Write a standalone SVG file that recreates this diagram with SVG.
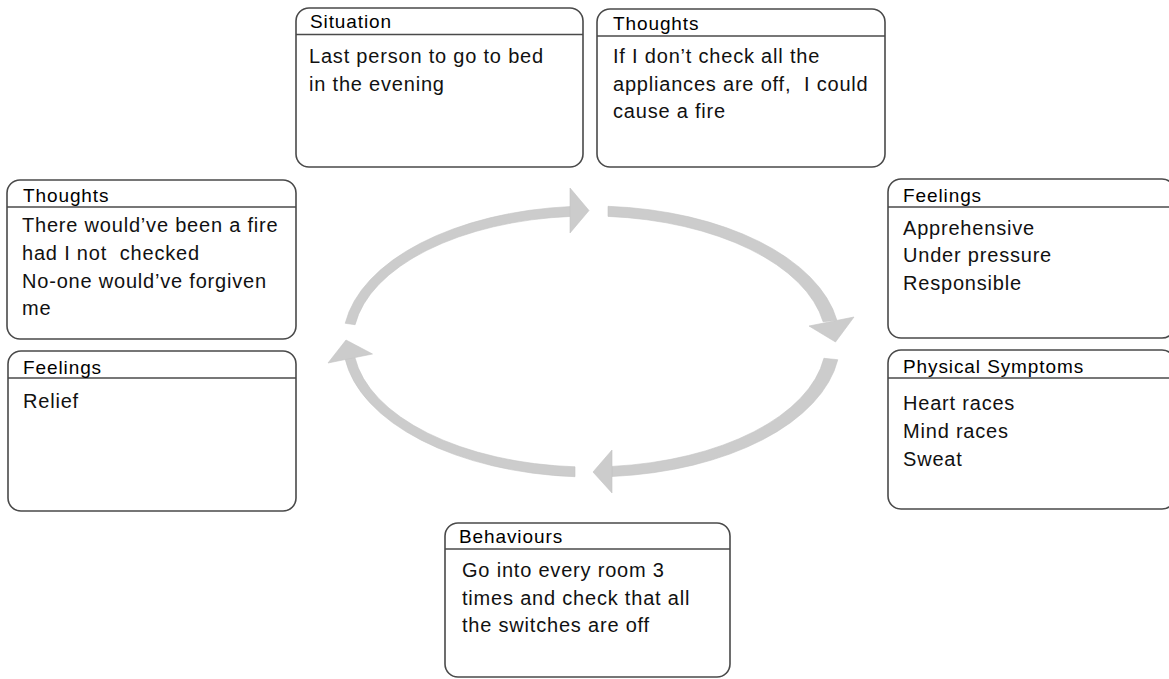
<svg xmlns="http://www.w3.org/2000/svg" width="1169" height="679" viewBox="0 0 1169 679">
<style>
.box{fill:#ffffff;stroke:#4a4a4a;stroke-width:1.6}
.hdr{stroke:#4a4a4a;stroke-width:1.6}
.title{font-family:"Liberation Sans",Arial,sans-serif;font-size:19px;fill:#000;letter-spacing:0.9px;white-space:pre}
.body{font-family:"Liberation Sans",Arial,sans-serif;font-size:20px;fill:#111;letter-spacing:0.8px;white-space:pre}
.arc{fill:#cccccc;stroke:#c4c4c4;stroke-width:0.6}
.head{fill:#cccccc;stroke:#c4c4c4;stroke-width:0.6}
</style>
<rect width="1169" height="679" fill="#ffffff"/>
<g id="connectors">
<path class="arc" d="M 345.2 323.3 A 248.5 135.5 0 0 1 571 206.5 L 571 216.4 A 236.5 125.5 0 0 0 355.1 324.7 Z"/>
<polygon class="head" points="570,188 589,210.5 570,233"/>
<path class="arc" d="M 608 206.3 A 248.5 135.5 0 0 1 836.9 320.2 L 823.1 321.8 A 236.5 125.5 0 0 0 608 216.4 Z"/>
<polygon class="head" points="809,326 835.5,342 854,317"/>
<path class="arc" d="M 837.8 359.7 A 248.5 135.5 0 0 1 612 476.5 L 612 466.4 A 236.5 125.5 0 0 0 823.9 358.3 Z"/>
<polygon class="head" points="612,450 593,472 612,493"/>
<path class="arc" d="M 575 476.7 A 248.5 135.5 0 0 1 345 358.6 L 354.9 357.4 A 236.5 125.5 0 0 0 575 466.8 Z"/>
<polygon class="head" points="328,363 346,340 372.5,354"/>
</g>
<g id="situation">
<rect class="box" x="296" y="8" width="287" height="159" rx="13"/>
<line class="hdr" x1="296" y1="34.5" x2="583" y2="34.5"/>
<text class="title" x="310" y="28">Situation</text>
<text class="body" x="309" y="63">Last person to go to bed</text>
<text class="body" x="309" y="91">in the evening</text>
</g>
<g id="thoughts-top">
<rect class="box" x="597" y="9" width="288" height="158" rx="13"/>
<line class="hdr" x1="597" y1="36" x2="885" y2="36"/>
<text class="title" x="613" y="30">Thoughts</text>
<text class="body" x="613" y="63">If I don’t check all the</text>
<text class="body" x="613" y="91">appliances are off,  I could</text>
<text class="body" x="613" y="118">cause a fire</text>
</g>
<g id="thoughts-left">
<rect class="box" x="7" y="180" width="289" height="159" rx="13"/>
<line class="hdr" x1="7" y1="207" x2="296" y2="207"/>
<text class="title" x="23" y="202">Thoughts</text>
<text class="body" x="22" y="232">There would’ve been a fire</text>
<text class="body" x="22" y="260">had I not  checked</text>
<text class="body" x="22" y="288">No-one would’ve forgiven</text>
<text class="body" x="22" y="315">me</text>
</g>
<g id="feelings-left">
<rect class="box" x="8" y="351" width="288" height="160" rx="13"/>
<line class="hdr" x1="8" y1="378" x2="296" y2="378"/>
<text class="title" x="23" y="374">Feelings</text>
<text class="body" x="23" y="408">Relief</text>
</g>
<g id="feelings-right">
<rect class="box" x="888" y="179" width="287" height="159" rx="13"/>
<line class="hdr" x1="888" y1="207" x2="1175" y2="207"/>
<text class="title" x="903" y="202">Feelings</text>
<text class="body" x="903" y="235">Apprehensive</text>
<text class="body" x="903" y="262">Under pressure</text>
<text class="body" x="903" y="290">Responsible</text>
</g>
<g id="physical-symptoms">
<rect class="box" x="888" y="350" width="287" height="159" rx="13"/>
<line class="hdr" x1="888" y1="378" x2="1175" y2="378"/>
<text class="title" x="903" y="373">Physical Symptoms</text>
<text class="body" x="903" y="410">Heart races</text>
<text class="body" x="903" y="438">Mind races</text>
<text class="body" x="903" y="466">Sweat</text>
</g>
<g id="behaviours">
<rect class="box" x="445" y="523" width="285" height="154" rx="13"/>
<line class="hdr" x1="445" y1="549" x2="730" y2="549"/>
<text class="title" x="459" y="543">Behaviours</text>
<text class="body" x="462" y="577">Go into every room 3</text>
<text class="body" x="462" y="605">times and check that all</text>
<text class="body" x="462" y="632">the switches are off</text>
</g>
</svg>
